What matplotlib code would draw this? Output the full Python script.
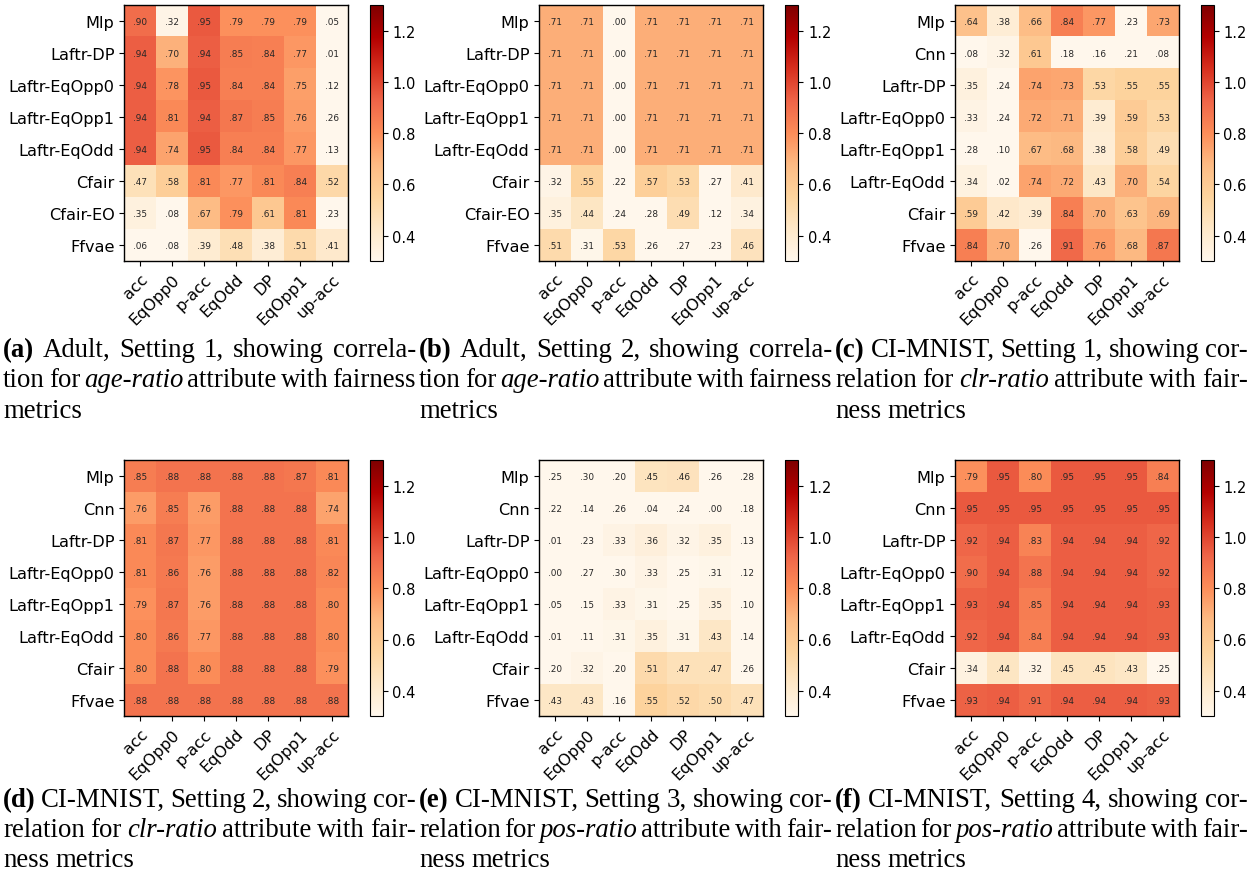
import matplotlib
matplotlib.use('Agg')
import matplotlib.pyplot as plt
import numpy as np

metrics = ['acc', 'EqOpp0', 'p-acc', 'EqOdd', 'DP', 'EqOpp1', 'up-acc']
models_adult = ['Mlp', 'Laftr-DP', 'Laftr-EqOpp0', 'Laftr-EqOpp1', 'Laftr-EqOdd',
                'Cfair', 'Cfair-EO', 'Ffvae']
models_mnist = ['Mlp', 'Cnn', 'Laftr-DP', 'Laftr-EqOpp0', 'Laftr-EqOpp1',
                'Laftr-EqOdd', 'Cfair', 'Ffvae']

adult_s1 = [
    [.90, .32, .95, .79, .79, .79, .05],
    [.94, .70, .94, .85, .84, .77, .01],
    [.94, .78, .95, .84, .84, .75, .12],
    [.94, .81, .94, .87, .85, .76, .26],
    [.94, .74, .95, .84, .84, .77, .13],
    [.47, .58, .81, .77, .81, .84, .52],
    [.35, .08, .67, .79, .61, .81, .23],
    [.06, .08, .39, .48, .38, .51, .41],
]
adult_s2 = [
    [.71, .71, .00, .71, .71, .71, .71],
    [.71, .71, .00, .71, .71, .71, .71],
    [.71, .71, .00, .71, .71, .71, .71],
    [.71, .71, .00, .71, .71, .71, .71],
    [.71, .71, .00, .71, .71, .71, .71],
    [.32, .55, .22, .57, .53, .27, .41],
    [.35, .44, .24, .28, .49, .12, .34],
    [.51, .31, .53, .26, .27, .23, .46],
]
mnist_s1 = [
    [.64, .38, .66, .84, .77, .23, .73],
    [.08, .32, .61, .18, .16, .21, .08],
    [.35, .24, .74, .73, .53, .55, .55],
    [.33, .24, .72, .71, .39, .59, .53],
    [.28, .10, .67, .68, .38, .58, .49],
    [.34, .02, .74, .72, .43, .70, .54],
    [.59, .42, .39, .84, .70, .63, .69],
    [.84, .70, .26, .91, .76, .68, .87],
]
mnist_s2 = [
    [.85, .88, .88, .88, .88, .87, .81],
    [.76, .85, .76, .88, .88, .88, .74],
    [.81, .87, .77, .88, .88, .88, .81],
    [.81, .86, .76, .88, .88, .88, .82],
    [.79, .87, .76, .88, .88, .88, .80],
    [.80, .86, .77, .88, .88, .88, .80],
    [.80, .88, .80, .88, .88, .88, .79],
    [.88, .88, .88, .88, .88, .88, .88],
]
mnist_s3 = [
    [.25, .30, .20, .45, .46, .26, .28],
    [.22, .14, .26, .04, .24, .00, .18],
    [.01, .23, .33, .36, .32, .35, .13],
    [.00, .27, .30, .33, .25, .31, .12],
    [.05, .15, .33, .31, .25, .35, .10],
    [.01, .11, .31, .35, .31, .43, .14],
    [.20, .32, .20, .51, .47, .47, .26],
    [.43, .43, .16, .55, .52, .50, .47],
]
mnist_s4 = [
    [.79, .95, .80, .95, .95, .95, .84],
    [.95, .95, .95, .95, .95, .95, .95],
    [.92, .94, .83, .94, .94, .94, .92],
    [.90, .94, .88, .94, .94, .94, .92],
    [.93, .94, .85, .94, .94, .94, .93],
    [.92, .94, .84, .94, .94, .94, .93],
    [.34, .44, .32, .45, .45, .43, .25],
    [.93, .94, .91, .94, .94, .94, .93],
]

captions = [
    ["**(a)** Adult, Setting 1, showing correla-",
     "tion for *age-ratio* attribute with fairness",
     "metrics"],
    ["**(b)** Adult, Setting 2, showing correla-",
     "tion for *age-ratio* attribute with fairness",
     "metrics"],
    ["**(c)** CI-MNIST, Setting 1, showing cor-",
     "relation for *clr-ratio* attribute with fair-",
     "ness metrics"],
    ["**(d)** CI-MNIST, Setting 2, showing cor-",
     "relation for *clr-ratio* attribute with fair-",
     "ness metrics"],
    ["**(e)** CI-MNIST, Setting 3, showing cor-",
     "relation for *pos-ratio* attribute with fair-",
     "ness metrics"],
    ["**(f)** CI-MNIST, Setting 4, showing cor-",
     "relation for *pos-ratio* attribute with fair-",
     "ness metrics"],
]

panels = [
    (adult_s1, models_adult), (adult_s2, models_adult), (mnist_s1, models_mnist),
    (mnist_s2, models_mnist), (mnist_s3, models_mnist), (mnist_s4, models_mnist),
]

W, H = 1251, 879
fig = plt.figure(figsize=(W / 100, H / 100), dpi=100)


def px_axes(l, t, r, b):
    return fig.add_axes([l / W, 1 - b / H, (r - l) / W, (b - t) / H])


heat_left = [124.3, 539.3, 955.3]
heat_right = [347.7, 763.3, 1178.5]
cbar_left = [370.0, 785.5, 1200.5]
cbar_right = [382.7, 798.3, 1213.5]
row_top = [6.0, 461.3]
row_bot = [262.3, 717.3]

cap_left = [3, 419, 835]
cap_width = 413
cap_base = [[357, 387, 418], [807, 837, 867]]
cap_fs = 19.3

def fmt(v):
    s = f"{v:.2f}"
    return s[1:] if s.startswith('0') else s

for k, (data, models) in enumerate(panels):
    r, c = divmod(k, 3)
    ax = px_axes(heat_left[c], row_top[r], heat_right[c], row_bot[r])
    cax = px_axes(cbar_left[c], row_top[r], cbar_right[c], row_bot[r])
    arr = np.array(data)
    im = ax.imshow(arr, cmap='OrRd', vmin=0.3, vmax=1.3, aspect='auto',
                   interpolation='nearest')
    for i in range(arr.shape[0]):
        for j in range(arr.shape[1]):
            ax.text(j, i, fmt(arr[i, j]), ha='center', va='center',
                    fontsize=6.4, color='#262626')
    ax.set_xticks(range(len(metrics)))
    ax.set_xticklabels(metrics, rotation=45, ha='right', rotation_mode='anchor',
                       fontsize=11.6)
    ax.set_yticks(range(len(models)))
    ax.set_yticklabels(models, fontsize=11.6)
    for sp in ax.spines.values():
        sp.set_linewidth(1.0)
    cb = fig.colorbar(im, cax=cax)
    cb.ax.tick_params(labelsize=10.5)
    cb.outline.set_linewidth(0.8)

renderer = fig.canvas.get_renderer()


def make_word(w):
    if w.startswith('**') and w.endswith('**'):
        return w[2:-2], 'bold', 'normal'
    if w.startswith('*') and w.endswith('*'):
        return w[1:-1], 'normal', 'italic'
    return w, 'normal', 'normal'


for k, lines in enumerate(captions):
    r, c = divmod(k, 3)
    for li, line in enumerate(lines):
        words = [make_word(w) for w in line.split(' ')]
        texts = []
        for txt, weight, style in words:
            t = fig.text(0, 0, txt, fontsize=cap_fs, family='Liberation Serif',
                         fontweight=weight, fontstyle=style, va='baseline',
                         ha='left', transform=None)
            texts.append(t)
        widths = [t.get_window_extent(renderer).width for t in texts]
        if li < len(lines) - 1 and len(texts) > 1:
            gap = (cap_width - sum(widths)) / (len(texts) - 1)
        else:
            gap = 0.25 * cap_fs * 100 / 72
        x = cap_left[c]
        ybase = H - cap_base[r][li]
        for t, w in zip(texts, widths):
            t.set_position((x, ybase))
            x += w + gap

fig.savefig('out.png', dpi=100)
